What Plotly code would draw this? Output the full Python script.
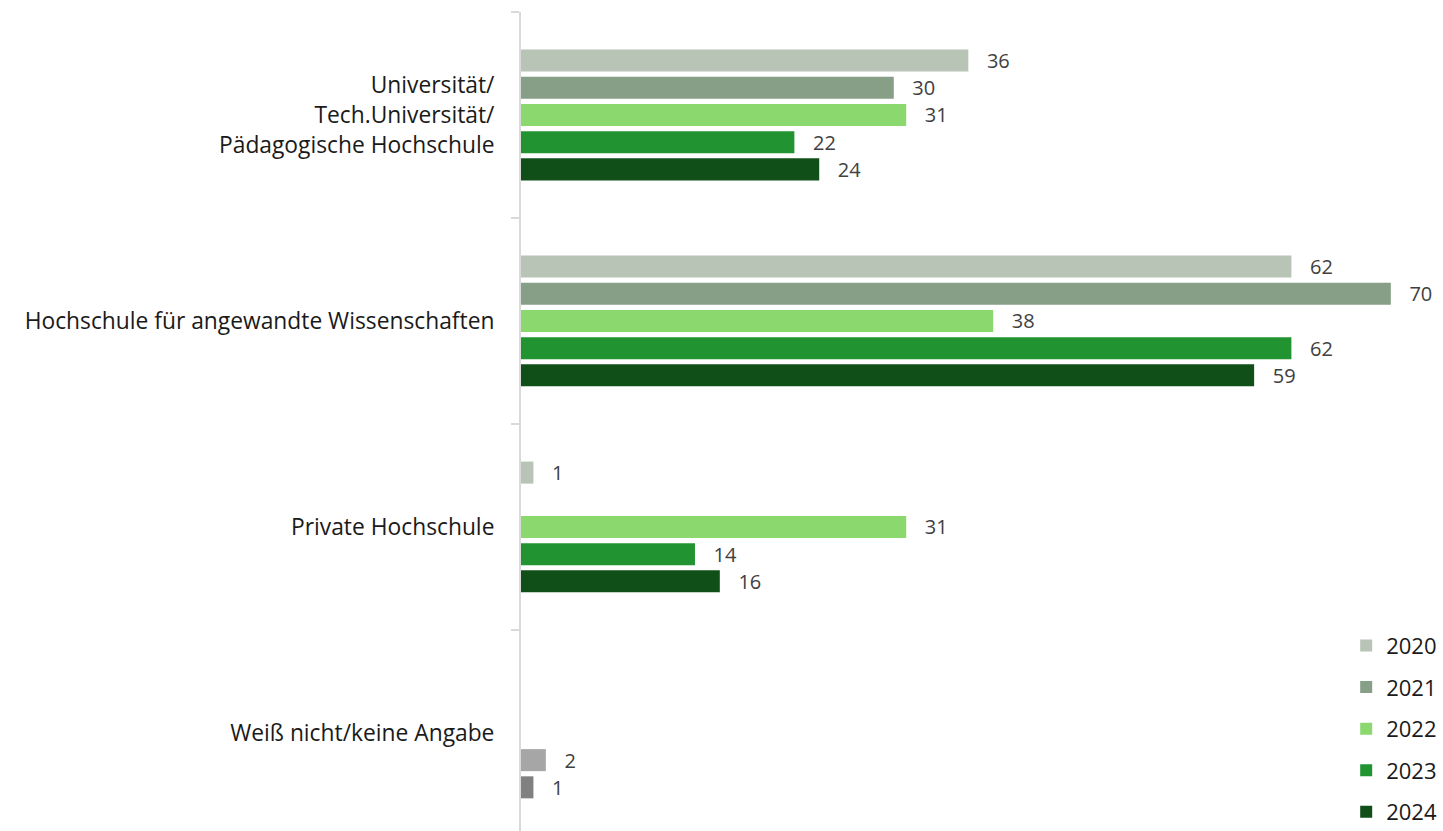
import plotly.graph_objects as go

categories = [
    "Universität/<br>Tech.Universität/<br>Pädagogische Hochschule",
    "Hochschule für angewandte Wissenschaften",
    "Private Hochschule",
    "Weiß nicht/keine Angabe",
]
years = ["2020", "2021", "2022", "2023", "2024"]
values = {
    "2020": [36, 62, 1, None],
    "2021": [30, 70, None, None],
    "2022": [31, 38, 31, None],
    "2023": [22, 62, 14, 2],
    "2024": [24, 59, 16, 1],
}
colors = {
    "2020": "#b8c4b6",
    "2021": "#879e87",
    "2022": "#8ad86e",
    "2023": "#219330",
    "2024": "#114f19",
}
# per-point colour override for the "Weiß nicht" bars
point_colors = {
    "2023": [None, None, None, "#a6a6a6"],
    "2024": [None, None, None, "#808080"],
}

FONT = "Open Sans"
fig = go.Figure()
for i, yr in enumerate(years):
    base = colors[yr]
    cols = [c if c else base for c in point_colors.get(yr, [None] * 4)]
    fig.add_trace(go.Bar(
        name=yr,
        y=categories,
        x=values[yr],
        orientation="h",
        marker=dict(color=cols, line=dict(width=0)),
        text=[("\u00a0\u00a0\u00a0" + str(v)) if v is not None else "" for v in values[yr]],
        textposition="outside",
        constraintext="none",
        textfont=dict(family=FONT, size=20, color="#404040"),
        cliponaxis=False,
        legendgroup=yr,
    ))

fig.update_layout(
    width=1443, height=831,
    margin=dict(l=521, r=0, t=12, b=0, autoexpand=False),
    paper_bgcolor="white", plot_bgcolor="white",
    barmode="group",
    bargap=0.34,
    bargroupgap=0.19,
    uniformtext=dict(mode=False),
    showlegend=True,
    legend=dict(
        x=0.895, xanchor="left", y=-0.002, yanchor="bottom",
        font=dict(family=FONT, size=22, color="#1a1a1a"),
        tracegroupgap=10,
        traceorder="grouped",
        bgcolor="rgba(0,0,0,0)",
    ),
    xaxis=dict(
        range=[0, 74.2], showgrid=False, zeroline=False,
        showticklabels=False, showline=False, ticks="",
    ),
    yaxis=dict(
        type="category",
        categoryorder="array", categoryarray=categories,
        range=[3.476, -0.5],
        showgrid=False, zeroline=False,
        showline=True, linecolor="#d9d9d9", linewidth=2,
        ticks="outside", tickson="boundaries", ticklen=8,
        tickcolor="#d9d9d9", tickwidth=2,
        ticklabelstandoff=20,
        tickfont=dict(family=FONT, size=22.8, color="#1a1a1a"),
    ),
    font=dict(family=FONT),
)

fig.write_html("out.html", post_script="document.body.style.margin='0';",
               config={"displayModeBar": False})
